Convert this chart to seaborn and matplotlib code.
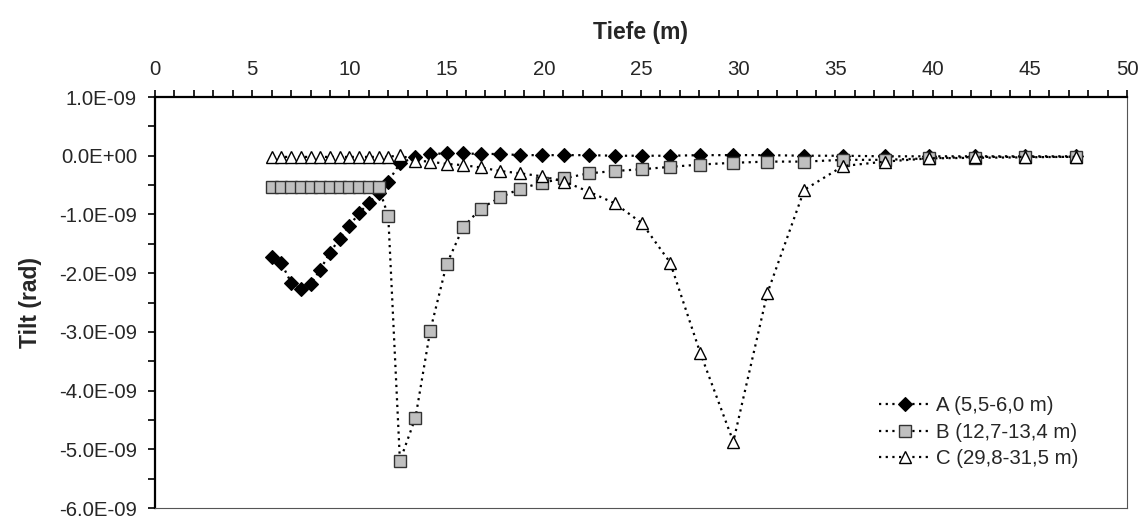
import matplotlib
matplotlib.use("Agg")
import matplotlib.pyplot as plt
import seaborn as sns
import numpy as np
import pandas as pd
from matplotlib.ticker import MultipleLocator, FuncFormatter

# Depth of the tilt readings (m)
depth = [6.0, 6.5, 7.0, 7.5, 8.0, 8.5, 9.0, 9.5, 10.0, 10.5, 11.0, 11.5, 12.0,
         12.6, 13.4, 14.15, 15.0, 15.85, 16.75, 17.75, 18.8, 19.9, 21.05, 22.3,
         23.65, 25.05, 26.5, 28.05, 29.75, 31.5, 33.4, 35.4, 37.55, 39.8, 42.2,
         44.75, 47.4]

# Tilt for each source layer, in units of 1E-09 rad
tilt_a = [-1.72, -1.83, -2.16, -2.27, -2.19, -1.94, -1.65, -1.41, -1.19, -0.98,
          -0.80, -0.64, -0.44, -0.13, -0.02, 0.03, 0.04, 0.04, 0.03, 0.03, 0.01,
          0.01, 0.01, 0.01, 0.0, 0.0, 0.0, 0.01, 0.01, 0.01, 0.0, 0.0, -0.01,
          -0.01, -0.01, -0.01, -0.01]
tilt_b = [-0.53, -0.53, -0.53, -0.53, -0.53, -0.53, -0.53, -0.53, -0.53, -0.53,
          -0.53, -0.53, -1.03, -5.20, -4.46, -2.99, -1.85, -1.22, -0.90, -0.71,
          -0.56, -0.46, -0.385, -0.30, -0.26, -0.23, -0.19, -0.15, -0.12, -0.10,
          -0.10, -0.07, -0.07, -0.045, -0.035, -0.027, -0.017]
tilt_c = [-0.02, -0.02, -0.02, -0.02, -0.02, -0.02, -0.02, -0.02, -0.02, -0.02,
          -0.02, -0.02, -0.02, 0.01, -0.085, -0.10, -0.14, -0.16, -0.20, -0.26,
          -0.30, -0.35, -0.44, -0.61, -0.81, -1.15, -1.82, -3.36, -4.87, -2.34,
          -0.58, -0.175, -0.10, -0.045, -0.02, -0.02, -0.02]

labels = ["A (5,5-6,0 m)", "B (12,7-13,4 m)", "C (29,8-31,5 m)"]

sns.set_style("white")
plt.rcParams["font.family"] = ["Liberation Sans", "DejaVu Sans"]

fig = plt.figure(figsize=(11.43, 5.18), dpi=100)
ax = fig.add_axes([0.1356, 0.0193, 0.8504, 0.7934])

line_kw = dict(color="black", linewidth=1.6, linestyle=(0, (1, 2.0)))

series = [
    (tilt_a, dict(marker="D", markersize=7.5, markerfacecolor="black",
                  markeredgecolor="black", markeredgewidth=0.8)),
    (tilt_b, dict(marker="s", markersize=8, markerfacecolor="#C0C0C0",
                  markeredgecolor="#333333", markeredgewidth=1.0)),
    (tilt_c, dict(marker="^", markersize=8, markerfacecolor="white",
                  markeredgecolor="black", markeredgewidth=1.0)),
]

for (vals, mk), lab in zip(series, labels):
    df = pd.DataFrame({"Tiefe": depth, "Tilt": np.array(vals) * 1e-9})
    sns.lineplot(data=df, x="Tiefe", y="Tilt", ax=ax, label=lab, **line_kw, **mk)

ax.set_xlim(0, 50)
ax.set_ylim(-6e-9, 1e-9)

# x axis on top
ax.xaxis.set_label_position("top")
ax.xaxis.tick_top()
ax.xaxis.set_major_locator(MultipleLocator(5))
ax.xaxis.set_minor_locator(MultipleLocator(1))
ax.yaxis.set_major_locator(MultipleLocator(1e-9))
ax.yaxis.set_minor_locator(MultipleLocator(0.5e-9))
ax.yaxis.set_major_formatter(FuncFormatter(lambda v, p: f"{v:.1E}"))

ax.tick_params(axis="x", which="both", top=True, bottom=False, direction="out",
               length=5, width=1.2, color="black")
ax.tick_params(axis="x", which="major", labelsize=14.7, pad=8)
ax.tick_params(axis="y", which="both", left=True, direction="out",
               length=5, width=1.2, color="black")
ax.tick_params(axis="y", which="major", labelsize=14.7, pad=8)

for side in ["left", "top"]:
    ax.spines[side].set_color("black")
    ax.spines[side].set_linewidth(1.6)
for side in ["right", "bottom"]:
    ax.spines[side].set_visible(True)
    ax.spines[side].set_color("#555555")
    ax.spines[side].set_linewidth(0.8)

ax.set_xlabel("Tiefe (m)", fontsize=16.5, fontweight="bold", labelpad=15)
ax.set_ylabel("Tilt (rad)", fontsize=16.5, fontweight="bold", labelpad=12)

leg = ax.legend(loc="lower right", bbox_to_anchor=(0.958, 0.077), frameon=False,
                fontsize=14.7, handlelength=2.5, handletextpad=0.25,
                labelspacing=0.36, borderaxespad=0)

fig.savefig("out.png", dpi=100, facecolor="white")
